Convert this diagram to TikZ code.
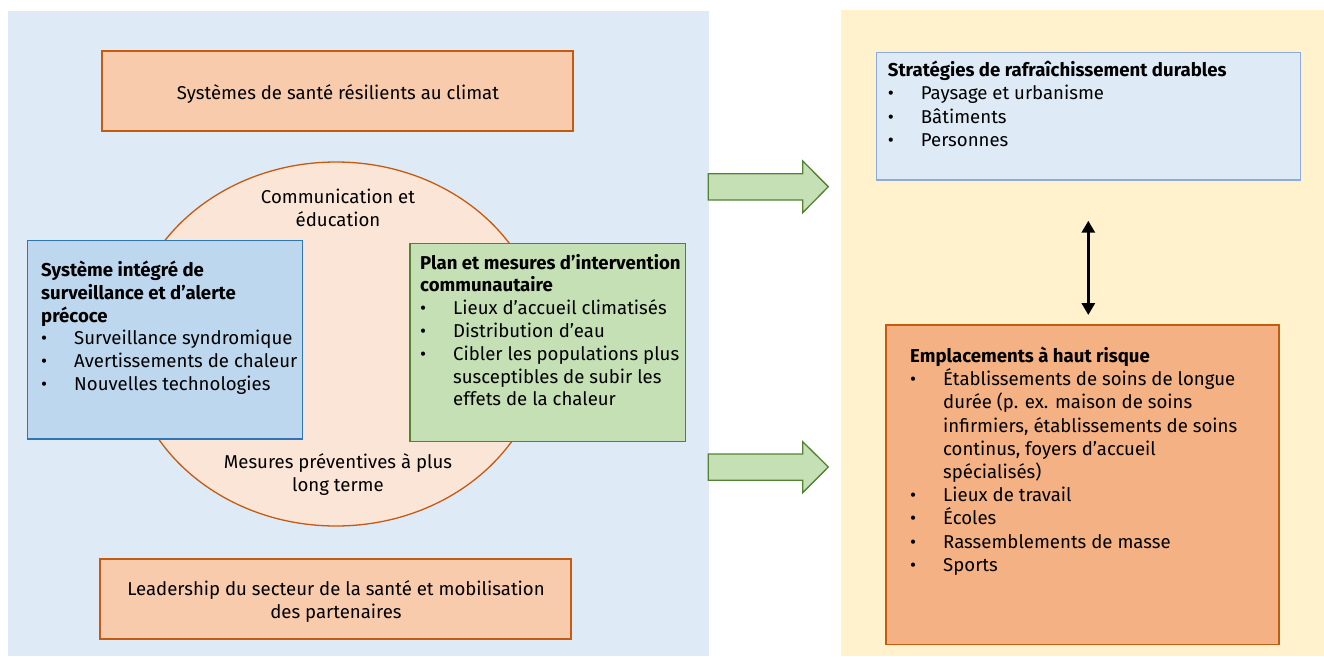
\documentclass[tikz,border=0pt]{standalone}
\usepackage{fontspec}
\setmainfont{Fira Sans}
\usetikzlibrary{shapes.geometric,arrows.meta}
\definecolor{panelblue}{HTML}{DEEBF7}
\definecolor{panelyellow}{HTML}{FFF2CC}
\definecolor{peach}{HTML}{F8CBAD}
\definecolor{orangeline}{HTML}{C55A11}
\definecolor{ellfill}{HTML}{FBE5D6}
\definecolor{bluefill}{HTML}{BDD7EE}
\definecolor{blueline}{HTML}{2E75B6}
\definecolor{greenfill}{HTML}{C5E0B4}
\definecolor{greenline}{HTML}{548235}
\definecolor{stratline}{HTML}{8FAADC}
\definecolor{emplfill}{HTML}{F4B183}
\newcommand{\bxhead}[1]{\hbox{\bfseries #1}}
\newcommand{\bxitem}[1]{\hbox{\makebox[33pt][l]{•}#1}}
\newcommand{\bxcont}[1]{\hbox{\hspace*{33pt}#1}}
\newcommand{\bxlist}[2]{\vtop{\baselineskip=#1pt\lineskiplimit=-100pt\lineskip=0pt #2}}
\begin{document}
\begin{tikzpicture}[x=1pt,y=-1pt,
  txt/.style={font=\fontsize{18.6}{23}\selectfont, text=black},
  boxbase/.style={rectangle, line width=1.3pt, inner sep=0pt},
  peachbox/.style={boxbase, fill=peach, draw=orangeline},
  ctxt/.style={txt, align=center, inner sep=0pt},
  listtxt/.style={anchor=base west, inner sep=0pt, txt},
  blockarrow/.style={fill=greenfill, draw=greenline, line width=1.3pt, line join=miter},
  dblarrow/.style={line width=3.5pt, {Triangle[width=13pt,length=12pt]}-{Triangle[width=13pt,length=12pt]}}
]
\useasboundingbox (0,0) rectangle (1324,656);
% panels
\fill[panelblue] (8,11) rectangle (709,656);
\fill[panelyellow] (841,10) rectangle (1324,656);

% left side
\node[peachbox, minimum width=471pt, minimum height=80pt] (top) at (337.5,91) {};
\node[ctxt] (toptxt) at (338,94) {Systèmes de santé résilients au climat};
\node[ellipse, fill=ellfill, draw=orangeline, line width=1.3pt, minimum width=416pt, minimum height=364pt, inner sep=0pt] (circ) at (336,344) {};
\node[ctxt] (comm) at (338,207.5) {Communication et\\éducation};
\node[ctxt] (mes) at (338,474.5) {Mesures préventives à plus\\long terme};
\node[boxbase, fill=bluefill, draw=blueline, minimum width=275.4pt, minimum height=198.3pt] (surv) at (165,339.9) {};
\node[listtxt] (survtxt) at (41,276.5) {\bxlist{22.8}{%
  \bxhead{Système intégré de}
  \bxhead{surveillance et d’alerte}
  \bxhead{précoce}
  \bxitem{Surveillance syndromique}
  \bxitem{Avertissements de chaleur}
  \bxitem{Nouvelles technologies}}};
\node[boxbase, fill=greenfill, draw=greenline, minimum width=275.7pt, minimum height=198.4pt] (plan) at (547.9,342.5) {};
\node[listtxt] (plantxt) at (420,269) {\bxlist{22.8}{%
  \bxhead{Plan et mesures d’intervention}
  \bxhead{communautaire}
  \bxitem{Lieux d’accueil climatisés}
  \bxitem{Distribution d’eau}
  \bxitem{Cibler les populations plus}
  \bxcont{susceptibles de subir les}
  \bxcont{effets de la chaleur}}};
\node[peachbox, minimum width=471pt, minimum height=80pt] (lead) at (335.5,599) {};
\node[ctxt] (leadtxt) at (336,602) {Leadership du secteur de la santé et mobilisation\\des partenaires};

% block arrows
\draw[blockarrow] (708.3,173.7) -- (802.7,173.7) -- (802.7,161) -- (828.3,186.7) -- (802.7,212.7) -- (802.7,200) -- (708.3,200) -- cycle;
\draw[blockarrow] (708.3,454) -- (802.7,454) -- (802.7,441.7) -- (828.3,467) -- (802.7,492.7) -- (802.7,480.3) -- (708.3,480.3) -- cycle;

% right side
\node[boxbase, fill=panelblue, draw=stratline, minimum width=424pt, minimum height=127.7pt] (strat) at (1088.7,116.2) {};
\node[listtxt] (strattxt) at (887.7,76) {\bxlist{23.5}{%
  \bxhead{Stratégies de rafraîchissement durables}
  \bxitem{Paysage et urbanisme}
  \bxitem{Bâtiments}
  \bxitem{Personnes}}};
\node[boxbase, fill=emplfill, draw=orangeline, minimum width=393pt, minimum height=319.3pt] (empl) at (1082.5,484.7) {};
\node[listtxt] (empltxt) at (910,362.5) {\bxlist{23.2}{%
  \bxhead{Emplacements à haut risque}
  \bxitem{Établissements de soins de longue}
  \bxcont{durée (p. ex. maison de soins}
  \bxcont{infirmiers, établissements de soins}
  \bxcont{continus, foyers d’accueil}
  \bxcont{spécialisés)}
  \bxitem{Lieux de travail}
  \bxitem{Écoles}
  \bxitem{Rassemblements de masse}
  \bxitem{Sports}}};
\coordinate (da1) at (1088.3,220.7);
\coordinate (da2) at (1088.3,315);
\draw[dblarrow] (da1) -- (da2);
\end{tikzpicture}
\end{document}
